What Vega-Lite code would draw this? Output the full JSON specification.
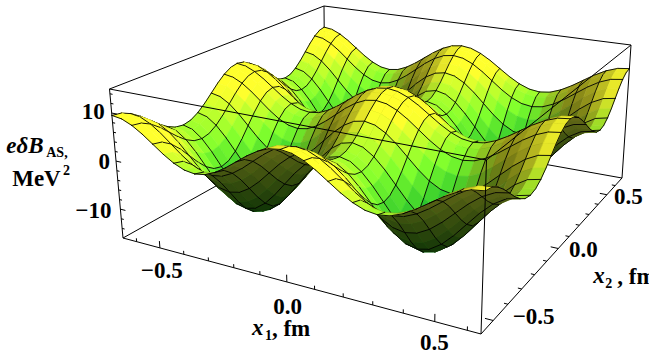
{"$schema":"https://vega.github.io/schema/vega-lite/v6.json","width":649,"height":362,"padding":0,"autosize":"none","background":"white","config":{"view":{"stroke":null}},
"data":{"values":[
{"i":0,"j":32,"z":9.5},{"i":1,"j":32,"z":9.18},{"i":2,"j":32,"z":8.25},{"i":3,"j":32,"z":6.88},{"i":4,"j":32,"z":5.25},{"i":5,"j":32,"z":3.62},{"i":6,"j":32,"z":2.25},{"i":7,"j":32,"z":1.32},{"i":8,"j":32,"z":1},{"i":9,"j":32,"z":1.32},{"i":10,"j":32,"z":2.25},{"i":11,"j":32,"z":3.62},{"i":12,"j":32,"z":5.25},{"i":13,"j":32,"z":6.88},{"i":14,"j":32,"z":8.25},{"i":15,"j":32,"z":9.18},{"i":16,"j":32,"z":9.5},{"i":17,"j":32,"z":9.18},{"i":18,"j":32,"z":8.25},{"i":19,"j":32,"z":6.88},{"i":20,"j":32,"z":5.25},{"i":21,"j":32,"z":3.62},{"i":22,"j":32,"z":2.25},{"i":23,"j":32,"z":1.32},{"i":24,"j":32,"z":1},{"i":25,"j":32,"z":1.32},{"i":26,"j":32,"z":2.25},{"i":27,"j":32,"z":3.62},{"i":28,"j":32,"z":5.25},{"i":29,"j":32,"z":6.88},{"i":30,"j":32,"z":8.25},{"i":31,"j":32,"z":9.18},{"i":32,"j":32,"z":9.5},
{"i":0,"j":31,"z":9.18},{"i":1,"j":31,"z":8.84},{"i":2,"j":31,"z":7.89},{"i":3,"j":31,"z":6.48},{"i":4,"j":31,"z":4.8},{"i":5,"j":31,"z":3.12},{"i":6,"j":31,"z":1.71},{"i":7,"j":31,"z":0.76},{"i":8,"j":31,"z":0.43},{"i":9,"j":31,"z":0.76},{"i":10,"j":31,"z":1.71},{"i":11,"j":31,"z":3.12},{"i":12,"j":31,"z":4.8},{"i":13,"j":31,"z":6.48},{"i":14,"j":31,"z":7.89},{"i":15,"j":31,"z":8.84},{"i":16,"j":31,"z":9.18},{"i":17,"j":31,"z":8.84},{"i":18,"j":31,"z":7.89},{"i":19,"j":31,"z":6.48},{"i":20,"j":31,"z":4.8},{"i":21,"j":31,"z":3.12},{"i":22,"j":31,"z":1.71},{"i":23,"j":31,"z":0.76},{"i":24,"j":31,"z":0.43},{"i":25,"j":31,"z":0.76},{"i":26,"j":31,"z":1.71},{"i":27,"j":31,"z":3.12},{"i":28,"j":31,"z":4.8},{"i":29,"j":31,"z":6.48},{"i":30,"j":31,"z":7.89},{"i":31,"j":31,"z":8.84},{"i":32,"j":31,"z":9.18},
{"i":0,"j":30,"z":8.25},{"i":1,"j":30,"z":7.89},{"i":2,"j":30,"z":6.87},{"i":3,"j":30,"z":5.34},{"i":4,"j":30,"z":3.53},{"i":5,"j":30,"z":1.72},{"i":6,"j":30,"z":0.19},{"i":7,"j":30,"z":-0.84},{"i":8,"j":30,"z":-1.2},{"i":9,"j":30,"z":-0.84},{"i":10,"j":30,"z":0.19},{"i":11,"j":30,"z":1.72},{"i":12,"j":30,"z":3.53},{"i":13,"j":30,"z":5.34},{"i":14,"j":30,"z":6.87},{"i":15,"j":30,"z":7.89},{"i":16,"j":30,"z":8.25},{"i":17,"j":30,"z":7.89},{"i":18,"j":30,"z":6.87},{"i":19,"j":30,"z":5.34},{"i":20,"j":30,"z":3.53},{"i":21,"j":30,"z":1.72},{"i":22,"j":30,"z":0.19},{"i":23,"j":30,"z":-0.84},{"i":24,"j":30,"z":-1.2},{"i":25,"j":30,"z":-0.84},{"i":26,"j":30,"z":0.19},{"i":27,"j":30,"z":1.72},{"i":28,"j":30,"z":3.53},{"i":29,"j":30,"z":5.34},{"i":30,"j":30,"z":6.87},{"i":31,"j":30,"z":7.89},{"i":32,"j":30,"z":8.25},
{"i":0,"j":29,"z":6.88},{"i":1,"j":29,"z":6.48},{"i":2,"j":29,"z":5.34},{"i":3,"j":29,"z":3.64},{"i":4,"j":29,"z":1.63},{"i":5,"j":29,"z":-0.39},{"i":6,"j":29,"z":-2.09},{"i":7,"j":29,"z":-3.23},{"i":8,"j":29,"z":-3.63},{"i":9,"j":29,"z":-3.23},{"i":10,"j":29,"z":-2.09},{"i":11,"j":29,"z":-0.39},{"i":12,"j":29,"z":1.63},{"i":13,"j":29,"z":3.64},{"i":14,"j":29,"z":5.34},{"i":15,"j":29,"z":6.48},{"i":16,"j":29,"z":6.88},{"i":17,"j":29,"z":6.48},{"i":18,"j":29,"z":5.34},{"i":19,"j":29,"z":3.64},{"i":20,"j":29,"z":1.63},{"i":21,"j":29,"z":-0.39},{"i":22,"j":29,"z":-2.09},{"i":23,"j":29,"z":-3.23},{"i":24,"j":29,"z":-3.63},{"i":25,"j":29,"z":-3.23},{"i":26,"j":29,"z":-2.09},{"i":27,"j":29,"z":-0.39},{"i":28,"j":29,"z":1.63},{"i":29,"j":29,"z":3.64},{"i":30,"j":29,"z":5.34},{"i":31,"j":29,"z":6.48},{"i":32,"j":29,"z":6.88},
{"i":0,"j":28,"z":5.25},{"i":1,"j":28,"z":4.8},{"i":2,"j":28,"z":3.53},{"i":3,"j":28,"z":1.63},{"i":4,"j":28,"z":-0.63},{"i":5,"j":28,"z":-2.88},{"i":6,"j":28,"z":-4.78},{"i":7,"j":28,"z":-6.05},{"i":8,"j":28,"z":-6.5},{"i":9,"j":28,"z":-6.05},{"i":10,"j":28,"z":-4.78},{"i":11,"j":28,"z":-2.88},{"i":12,"j":28,"z":-0.63},{"i":13,"j":28,"z":1.63},{"i":14,"j":28,"z":3.53},{"i":15,"j":28,"z":4.8},{"i":16,"j":28,"z":5.25},{"i":17,"j":28,"z":4.8},{"i":18,"j":28,"z":3.53},{"i":19,"j":28,"z":1.63},{"i":20,"j":28,"z":-0.63},{"i":21,"j":28,"z":-2.88},{"i":22,"j":28,"z":-4.78},{"i":23,"j":28,"z":-6.05},{"i":24,"j":28,"z":-6.5},{"i":25,"j":28,"z":-6.05},{"i":26,"j":28,"z":-4.78},{"i":27,"j":28,"z":-2.88},{"i":28,"j":28,"z":-0.63},{"i":29,"j":28,"z":1.63},{"i":30,"j":28,"z":3.53},{"i":31,"j":28,"z":4.8},{"i":32,"j":28,"z":5.25},
{"i":0,"j":27,"z":3.62},{"i":1,"j":27,"z":3.12},{"i":2,"j":27,"z":1.72},{"i":3,"j":27,"z":-0.39},{"i":4,"j":27,"z":-2.88},{"i":5,"j":27,"z":-5.36},{"i":6,"j":27,"z":-7.47},{"i":7,"j":27,"z":-8.88},{"i":8,"j":27,"z":-9.37},{"i":9,"j":27,"z":-8.88},{"i":10,"j":27,"z":-7.47},{"i":11,"j":27,"z":-5.36},{"i":12,"j":27,"z":-2.88},{"i":13,"j":27,"z":-0.39},{"i":14,"j":27,"z":1.72},{"i":15,"j":27,"z":3.12},{"i":16,"j":27,"z":3.62},{"i":17,"j":27,"z":3.12},{"i":18,"j":27,"z":1.72},{"i":19,"j":27,"z":-0.39},{"i":20,"j":27,"z":-2.88},{"i":21,"j":27,"z":-5.36},{"i":22,"j":27,"z":-7.47},{"i":23,"j":27,"z":-8.88},{"i":24,"j":27,"z":-9.37},{"i":25,"j":27,"z":-8.88},{"i":26,"j":27,"z":-7.47},{"i":27,"j":27,"z":-5.36},{"i":28,"j":27,"z":-2.88},{"i":29,"j":27,"z":-0.39},{"i":30,"j":27,"z":1.72},{"i":31,"j":27,"z":3.12},{"i":32,"j":27,"z":3.62},
{"i":0,"j":26,"z":2.25},{"i":1,"j":26,"z":1.71},{"i":2,"j":26,"z":0.19},{"i":3,"j":26,"z":-2.09},{"i":4,"j":26,"z":-4.78},{"i":5,"j":26,"z":-7.47},{"i":6,"j":26,"z":-9.74},{"i":7,"j":26,"z":-11.27},{"i":8,"j":26,"z":-11.8},{"i":9,"j":26,"z":-11.27},{"i":10,"j":26,"z":-9.74},{"i":11,"j":26,"z":-7.47},{"i":12,"j":26,"z":-4.78},{"i":13,"j":26,"z":-2.09},{"i":14,"j":26,"z":0.19},{"i":15,"j":26,"z":1.71},{"i":16,"j":26,"z":2.25},{"i":17,"j":26,"z":1.71},{"i":18,"j":26,"z":0.19},{"i":19,"j":26,"z":-2.09},{"i":20,"j":26,"z":-4.78},{"i":21,"j":26,"z":-7.47},{"i":22,"j":26,"z":-9.74},{"i":23,"j":26,"z":-11.27},{"i":24,"j":26,"z":-11.8},{"i":25,"j":26,"z":-11.27},{"i":26,"j":26,"z":-9.74},{"i":27,"j":26,"z":-7.47},{"i":28,"j":26,"z":-4.78},{"i":29,"j":26,"z":-2.09},{"i":30,"j":26,"z":0.19},{"i":31,"j":26,"z":1.71},{"i":32,"j":26,"z":2.25},
{"i":0,"j":25,"z":1.32},{"i":1,"j":25,"z":0.76},{"i":2,"j":25,"z":-0.84},{"i":3,"j":25,"z":-3.23},{"i":4,"j":25,"z":-6.05},{"i":5,"j":25,"z":-8.88},{"i":6,"j":25,"z":-11.27},{"i":7,"j":25,"z":-12.87},{"i":8,"j":25,"z":-13.43},{"i":9,"j":25,"z":-12.87},{"i":10,"j":25,"z":-11.27},{"i":11,"j":25,"z":-8.88},{"i":12,"j":25,"z":-6.05},{"i":13,"j":25,"z":-3.23},{"i":14,"j":25,"z":-0.84},{"i":15,"j":25,"z":0.76},{"i":16,"j":25,"z":1.32},{"i":17,"j":25,"z":0.76},{"i":18,"j":25,"z":-0.84},{"i":19,"j":25,"z":-3.23},{"i":20,"j":25,"z":-6.05},{"i":21,"j":25,"z":-8.88},{"i":22,"j":25,"z":-11.27},{"i":23,"j":25,"z":-12.87},{"i":24,"j":25,"z":-13.43},{"i":25,"j":25,"z":-12.87},{"i":26,"j":25,"z":-11.27},{"i":27,"j":25,"z":-8.88},{"i":28,"j":25,"z":-6.05},{"i":29,"j":25,"z":-3.23},{"i":30,"j":25,"z":-0.84},{"i":31,"j":25,"z":0.76},{"i":32,"j":25,"z":1.32},
{"i":0,"j":24,"z":1},{"i":1,"j":24,"z":0.43},{"i":2,"j":24,"z":-1.2},{"i":3,"j":24,"z":-3.63},{"i":4,"j":24,"z":-6.5},{"i":5,"j":24,"z":-9.37},{"i":6,"j":24,"z":-11.8},{"i":7,"j":24,"z":-13.43},{"i":8,"j":24,"z":-14},{"i":9,"j":24,"z":-13.43},{"i":10,"j":24,"z":-11.8},{"i":11,"j":24,"z":-9.37},{"i":12,"j":24,"z":-6.5},{"i":13,"j":24,"z":-3.63},{"i":14,"j":24,"z":-1.2},{"i":15,"j":24,"z":0.43},{"i":16,"j":24,"z":1},{"i":17,"j":24,"z":0.43},{"i":18,"j":24,"z":-1.2},{"i":19,"j":24,"z":-3.63},{"i":20,"j":24,"z":-6.5},{"i":21,"j":24,"z":-9.37},{"i":22,"j":24,"z":-11.8},{"i":23,"j":24,"z":-13.43},{"i":24,"j":24,"z":-14},{"i":25,"j":24,"z":-13.43},{"i":26,"j":24,"z":-11.8},{"i":27,"j":24,"z":-9.37},{"i":28,"j":24,"z":-6.5},{"i":29,"j":24,"z":-3.63},{"i":30,"j":24,"z":-1.2},{"i":31,"j":24,"z":0.43},{"i":32,"j":24,"z":1},
{"i":0,"j":23,"z":1.32},{"i":1,"j":23,"z":0.76},{"i":2,"j":23,"z":-0.84},{"i":3,"j":23,"z":-3.23},{"i":4,"j":23,"z":-6.05},{"i":5,"j":23,"z":-8.88},{"i":6,"j":23,"z":-11.27},{"i":7,"j":23,"z":-12.87},{"i":8,"j":23,"z":-13.43},{"i":9,"j":23,"z":-12.87},{"i":10,"j":23,"z":-11.27},{"i":11,"j":23,"z":-8.88},{"i":12,"j":23,"z":-6.05},{"i":13,"j":23,"z":-3.23},{"i":14,"j":23,"z":-0.84},{"i":15,"j":23,"z":0.76},{"i":16,"j":23,"z":1.32},{"i":17,"j":23,"z":0.76},{"i":18,"j":23,"z":-0.84},{"i":19,"j":23,"z":-3.23},{"i":20,"j":23,"z":-6.05},{"i":21,"j":23,"z":-8.88},{"i":22,"j":23,"z":-11.27},{"i":23,"j":23,"z":-12.87},{"i":24,"j":23,"z":-13.43},{"i":25,"j":23,"z":-12.87},{"i":26,"j":23,"z":-11.27},{"i":27,"j":23,"z":-8.88},{"i":28,"j":23,"z":-6.05},{"i":29,"j":23,"z":-3.23},{"i":30,"j":23,"z":-0.84},{"i":31,"j":23,"z":0.76},{"i":32,"j":23,"z":1.32},
{"i":0,"j":22,"z":2.25},{"i":1,"j":22,"z":1.71},{"i":2,"j":22,"z":0.19},{"i":3,"j":22,"z":-2.09},{"i":4,"j":22,"z":-4.78},{"i":5,"j":22,"z":-7.47},{"i":6,"j":22,"z":-9.74},{"i":7,"j":22,"z":-11.27},{"i":8,"j":22,"z":-11.8},{"i":9,"j":22,"z":-11.27},{"i":10,"j":22,"z":-9.74},{"i":11,"j":22,"z":-7.47},{"i":12,"j":22,"z":-4.78},{"i":13,"j":22,"z":-2.09},{"i":14,"j":22,"z":0.19},{"i":15,"j":22,"z":1.71},{"i":16,"j":22,"z":2.25},{"i":17,"j":22,"z":1.71},{"i":18,"j":22,"z":0.19},{"i":19,"j":22,"z":-2.09},{"i":20,"j":22,"z":-4.78},{"i":21,"j":22,"z":-7.47},{"i":22,"j":22,"z":-9.74},{"i":23,"j":22,"z":-11.27},{"i":24,"j":22,"z":-11.8},{"i":25,"j":22,"z":-11.27},{"i":26,"j":22,"z":-9.74},{"i":27,"j":22,"z":-7.47},{"i":28,"j":22,"z":-4.78},{"i":29,"j":22,"z":-2.09},{"i":30,"j":22,"z":0.19},{"i":31,"j":22,"z":1.71},{"i":32,"j":22,"z":2.25},
{"i":0,"j":21,"z":3.62},{"i":1,"j":21,"z":3.12},{"i":2,"j":21,"z":1.72},{"i":3,"j":21,"z":-0.39},{"i":4,"j":21,"z":-2.88},{"i":5,"j":21,"z":-5.36},{"i":6,"j":21,"z":-7.47},{"i":7,"j":21,"z":-8.88},{"i":8,"j":21,"z":-9.37},{"i":9,"j":21,"z":-8.88},{"i":10,"j":21,"z":-7.47},{"i":11,"j":21,"z":-5.36},{"i":12,"j":21,"z":-2.88},{"i":13,"j":21,"z":-0.39},{"i":14,"j":21,"z":1.72},{"i":15,"j":21,"z":3.12},{"i":16,"j":21,"z":3.62},{"i":17,"j":21,"z":3.12},{"i":18,"j":21,"z":1.72},{"i":19,"j":21,"z":-0.39},{"i":20,"j":21,"z":-2.88},{"i":21,"j":21,"z":-5.36},{"i":22,"j":21,"z":-7.47},{"i":23,"j":21,"z":-8.88},{"i":24,"j":21,"z":-9.37},{"i":25,"j":21,"z":-8.88},{"i":26,"j":21,"z":-7.47},{"i":27,"j":21,"z":-5.36},{"i":28,"j":21,"z":-2.88},{"i":29,"j":21,"z":-0.39},{"i":30,"j":21,"z":1.72},{"i":31,"j":21,"z":3.12},{"i":32,"j":21,"z":3.62},
{"i":0,"j":20,"z":5.25},{"i":1,"j":20,"z":4.8},{"i":2,"j":20,"z":3.53},{"i":3,"j":20,"z":1.63},{"i":4,"j":20,"z":-0.63},{"i":5,"j":20,"z":-2.88},{"i":6,"j":20,"z":-4.78},{"i":7,"j":20,"z":-6.05},{"i":8,"j":20,"z":-6.5},{"i":9,"j":20,"z":-6.05},{"i":10,"j":20,"z":-4.78},{"i":11,"j":20,"z":-2.88},{"i":12,"j":20,"z":-0.63},{"i":13,"j":20,"z":1.63},{"i":14,"j":20,"z":3.53},{"i":15,"j":20,"z":4.8},{"i":16,"j":20,"z":5.25},{"i":17,"j":20,"z":4.8},{"i":18,"j":20,"z":3.53},{"i":19,"j":20,"z":1.63},{"i":20,"j":20,"z":-0.63},{"i":21,"j":20,"z":-2.88},{"i":22,"j":20,"z":-4.78},{"i":23,"j":20,"z":-6.05},{"i":24,"j":20,"z":-6.5},{"i":25,"j":20,"z":-6.05},{"i":26,"j":20,"z":-4.78},{"i":27,"j":20,"z":-2.88},{"i":28,"j":20,"z":-0.63},{"i":29,"j":20,"z":1.63},{"i":30,"j":20,"z":3.53},{"i":31,"j":20,"z":4.8},{"i":32,"j":20,"z":5.25},
{"i":0,"j":19,"z":6.88},{"i":1,"j":19,"z":6.48},{"i":2,"j":19,"z":5.34},{"i":3,"j":19,"z":3.64},{"i":4,"j":19,"z":1.63},{"i":5,"j":19,"z":-0.39},{"i":6,"j":19,"z":-2.09},{"i":7,"j":19,"z":-3.23},{"i":8,"j":19,"z":-3.63},{"i":9,"j":19,"z":-3.23},{"i":10,"j":19,"z":-2.09},{"i":11,"j":19,"z":-0.39},{"i":12,"j":19,"z":1.63},{"i":13,"j":19,"z":3.64},{"i":14,"j":19,"z":5.34},{"i":15,"j":19,"z":6.48},{"i":16,"j":19,"z":6.88},{"i":17,"j":19,"z":6.48},{"i":18,"j":19,"z":5.34},{"i":19,"j":19,"z":3.64},{"i":20,"j":19,"z":1.63},{"i":21,"j":19,"z":-0.39},{"i":22,"j":19,"z":-2.09},{"i":23,"j":19,"z":-3.23},{"i":24,"j":19,"z":-3.63},{"i":25,"j":19,"z":-3.23},{"i":26,"j":19,"z":-2.09},{"i":27,"j":19,"z":-0.39},{"i":28,"j":19,"z":1.63},{"i":29,"j":19,"z":3.64},{"i":30,"j":19,"z":5.34},{"i":31,"j":19,"z":6.48},{"i":32,"j":19,"z":6.88},
{"i":0,"j":18,"z":8.25},{"i":1,"j":18,"z":7.89},{"i":2,"j":18,"z":6.87},{"i":3,"j":18,"z":5.34},{"i":4,"j":18,"z":3.53},{"i":5,"j":18,"z":1.72},{"i":6,"j":18,"z":0.19},{"i":7,"j":18,"z":-0.84},{"i":8,"j":18,"z":-1.2},{"i":9,"j":18,"z":-0.84},{"i":10,"j":18,"z":0.19},{"i":11,"j":18,"z":1.72},{"i":12,"j":18,"z":3.53},{"i":13,"j":18,"z":5.34},{"i":14,"j":18,"z":6.87},{"i":15,"j":18,"z":7.89},{"i":16,"j":18,"z":8.25},{"i":17,"j":18,"z":7.89},{"i":18,"j":18,"z":6.87},{"i":19,"j":18,"z":5.34},{"i":20,"j":18,"z":3.53},{"i":21,"j":18,"z":1.72},{"i":22,"j":18,"z":0.19},{"i":23,"j":18,"z":-0.84},{"i":24,"j":18,"z":-1.2},{"i":25,"j":18,"z":-0.84},{"i":26,"j":18,"z":0.19},{"i":27,"j":18,"z":1.72},{"i":28,"j":18,"z":3.53},{"i":29,"j":18,"z":5.34},{"i":30,"j":18,"z":6.87},{"i":31,"j":18,"z":7.89},{"i":32,"j":18,"z":8.25},
{"i":0,"j":17,"z":9.18},{"i":1,"j":17,"z":8.84},{"i":2,"j":17,"z":7.89},{"i":3,"j":17,"z":6.48},{"i":4,"j":17,"z":4.8},{"i":5,"j":17,"z":3.12},{"i":6,"j":17,"z":1.71},{"i":7,"j":17,"z":0.76},{"i":8,"j":17,"z":0.43},{"i":9,"j":17,"z":0.76},{"i":10,"j":17,"z":1.71},{"i":11,"j":17,"z":3.12},{"i":12,"j":17,"z":4.8},{"i":13,"j":17,"z":6.48},{"i":14,"j":17,"z":7.89},{"i":15,"j":17,"z":8.84},{"i":16,"j":17,"z":9.18},{"i":17,"j":17,"z":8.84},{"i":18,"j":17,"z":7.89},{"i":19,"j":17,"z":6.48},{"i":20,"j":17,"z":4.8},{"i":21,"j":17,"z":3.12},{"i":22,"j":17,"z":1.71},{"i":23,"j":17,"z":0.76},{"i":24,"j":17,"z":0.43},{"i":25,"j":17,"z":0.76},{"i":26,"j":17,"z":1.71},{"i":27,"j":17,"z":3.12},{"i":28,"j":17,"z":4.8},{"i":29,"j":17,"z":6.48},{"i":30,"j":17,"z":7.89},{"i":31,"j":17,"z":8.84},{"i":32,"j":17,"z":9.18},
{"i":0,"j":16,"z":9.5},{"i":1,"j":16,"z":9.18},{"i":2,"j":16,"z":8.25},{"i":3,"j":16,"z":6.88},{"i":4,"j":16,"z":5.25},{"i":5,"j":16,"z":3.62},{"i":6,"j":16,"z":2.25},{"i":7,"j":16,"z":1.32},{"i":8,"j":16,"z":1},{"i":9,"j":16,"z":1.32},{"i":10,"j":16,"z":2.25},{"i":11,"j":16,"z":3.62},{"i":12,"j":16,"z":5.25},{"i":13,"j":16,"z":6.88},{"i":14,"j":16,"z":8.25},{"i":15,"j":16,"z":9.18},{"i":16,"j":16,"z":9.5},{"i":17,"j":16,"z":9.18},{"i":18,"j":16,"z":8.25},{"i":19,"j":16,"z":6.88},{"i":20,"j":16,"z":5.25},{"i":21,"j":16,"z":3.62},{"i":22,"j":16,"z":2.25},{"i":23,"j":16,"z":1.32},{"i":24,"j":16,"z":1},{"i":25,"j":16,"z":1.32},{"i":26,"j":16,"z":2.25},{"i":27,"j":16,"z":3.62},{"i":28,"j":16,"z":5.25},{"i":29,"j":16,"z":6.88},{"i":30,"j":16,"z":8.25},{"i":31,"j":16,"z":9.18},{"i":32,"j":16,"z":9.5},
{"i":0,"j":15,"z":9.18},{"i":1,"j":15,"z":8.84},{"i":2,"j":15,"z":7.89},{"i":3,"j":15,"z":6.48},{"i":4,"j":15,"z":4.8},{"i":5,"j":15,"z":3.12},{"i":6,"j":15,"z":1.71},{"i":7,"j":15,"z":0.76},{"i":8,"j":15,"z":0.43},{"i":9,"j":15,"z":0.76},{"i":10,"j":15,"z":1.71},{"i":11,"j":15,"z":3.12},{"i":12,"j":15,"z":4.8},{"i":13,"j":15,"z":6.48},{"i":14,"j":15,"z":7.89},{"i":15,"j":15,"z":8.84},{"i":16,"j":15,"z":9.18},{"i":17,"j":15,"z":8.84},{"i":18,"j":15,"z":7.89},{"i":19,"j":15,"z":6.48},{"i":20,"j":15,"z":4.8},{"i":21,"j":15,"z":3.12},{"i":22,"j":15,"z":1.71},{"i":23,"j":15,"z":0.76},{"i":24,"j":15,"z":0.43},{"i":25,"j":15,"z":0.76},{"i":26,"j":15,"z":1.71},{"i":27,"j":15,"z":3.12},{"i":28,"j":15,"z":4.8},{"i":29,"j":15,"z":6.48},{"i":30,"j":15,"z":7.89},{"i":31,"j":15,"z":8.84},{"i":32,"j":15,"z":9.18},
{"i":0,"j":14,"z":8.25},{"i":1,"j":14,"z":7.89},{"i":2,"j":14,"z":6.87},{"i":3,"j":14,"z":5.34},{"i":4,"j":14,"z":3.53},{"i":5,"j":14,"z":1.72},{"i":6,"j":14,"z":0.19},{"i":7,"j":14,"z":-0.84},{"i":8,"j":14,"z":-1.2},{"i":9,"j":14,"z":-0.84},{"i":10,"j":14,"z":0.19},{"i":11,"j":14,"z":1.72},{"i":12,"j":14,"z":3.53},{"i":13,"j":14,"z":5.34},{"i":14,"j":14,"z":6.87},{"i":15,"j":14,"z":7.89},{"i":16,"j":14,"z":8.25},{"i":17,"j":14,"z":7.89},{"i":18,"j":14,"z":6.87},{"i":19,"j":14,"z":5.34},{"i":20,"j":14,"z":3.53},{"i":21,"j":14,"z":1.72},{"i":22,"j":14,"z":0.19},{"i":23,"j":14,"z":-0.84},{"i":24,"j":14,"z":-1.2},{"i":25,"j":14,"z":-0.84},{"i":26,"j":14,"z":0.19},{"i":27,"j":14,"z":1.72},{"i":28,"j":14,"z":3.53},{"i":29,"j":14,"z":5.34},{"i":30,"j":14,"z":6.87},{"i":31,"j":14,"z":7.89},{"i":32,"j":14,"z":8.25},
{"i":0,"j":13,"z":6.88},{"i":1,"j":13,"z":6.48},{"i":2,"j":13,"z":5.34},{"i":3,"j":13,"z":3.64},{"i":4,"j":13,"z":1.63},{"i":5,"j":13,"z":-0.39},{"i":6,"j":13,"z":-2.09},{"i":7,"j":13,"z":-3.23},{"i":8,"j":13,"z":-3.63},{"i":9,"j":13,"z":-3.23},{"i":10,"j":13,"z":-2.09},{"i":11,"j":13,"z":-0.39},{"i":12,"j":13,"z":1.63},{"i":13,"j":13,"z":3.64},{"i":14,"j":13,"z":5.34},{"i":15,"j":13,"z":6.48},{"i":16,"j":13,"z":6.88},{"i":17,"j":13,"z":6.48},{"i":18,"j":13,"z":5.34},{"i":19,"j":13,"z":3.64},{"i":20,"j":13,"z":1.63},{"i":21,"j":13,"z":-0.39},{"i":22,"j":13,"z":-2.09},{"i":23,"j":13,"z":-3.23},{"i":24,"j":13,"z":-3.63},{"i":25,"j":13,"z":-3.23},{"i":26,"j":13,"z":-2.09},{"i":27,"j":13,"z":-0.39},{"i":28,"j":13,"z":1.63},{"i":29,"j":13,"z":3.64},{"i":30,"j":13,"z":5.34},{"i":31,"j":13,"z":6.48},{"i":32,"j":13,"z":6.88},
{"i":0,"j":12,"z":5.25},{"i":1,"j":12,"z":4.8},{"i":2,"j":12,"z":3.53},{"i":3,"j":12,"z":1.63},{"i":4,"j":12,"z":-0.63},{"i":5,"j":12,"z":-2.88},{"i":6,"j":12,"z":-4.78},{"i":7,"j":12,"z":-6.05},{"i":8,"j":12,"z":-6.5},{"i":9,"j":12,"z":-6.05},{"i":10,"j":12,"z":-4.78},{"i":11,"j":12,"z":-2.88},{"i":12,"j":12,"z":-0.63},{"i":13,"j":12,"z":1.63},{"i":14,"j":12,"z":3.53},{"i":15,"j":12,"z":4.8},{"i":16,"j":12,"z":5.25},{"i":17,"j":12,"z":4.8},{"i":18,"j":12,"z":3.53},{"i":19,"j":12,"z":1.63},{"i":20,"j":12,"z":-0.63},{"i":21,"j":12,"z":-2.88},{"i":22,"j":12,"z":-4.78},{"i":23,"j":12,"z":-6.05},{"i":24,"j":12,"z":-6.5},{"i":25,"j":12,"z":-6.05},{"i":26,"j":12,"z":-4.78},{"i":27,"j":12,"z":-2.88},{"i":28,"j":12,"z":-0.63},{"i":29,"j":12,"z":1.63},{"i":30,"j":12,"z":3.53},{"i":31,"j":12,"z":4.8},{"i":32,"j":12,"z":5.25},
{"i":0,"j":11,"z":3.62},{"i":1,"j":11,"z":3.12},{"i":2,"j":11,"z":1.72},{"i":3,"j":11,"z":-0.39},{"i":4,"j":11,"z":-2.88},{"i":5,"j":11,"z":-5.36},{"i":6,"j":11,"z":-7.47},{"i":7,"j":11,"z":-8.88},{"i":8,"j":11,"z":-9.37},{"i":9,"j":11,"z":-8.88},{"i":10,"j":11,"z":-7.47},{"i":11,"j":11,"z":-5.36},{"i":12,"j":11,"z":-2.88},{"i":13,"j":11,"z":-0.39},{"i":14,"j":11,"z":1.72},{"i":15,"j":11,"z":3.12},{"i":16,"j":11,"z":3.62},{"i":17,"j":11,"z":3.12},{"i":18,"j":11,"z":1.72},{"i":19,"j":11,"z":-0.39},{"i":20,"j":11,"z":-2.88},{"i":21,"j":11,"z":-5.36},{"i":22,"j":11,"z":-7.47},{"i":23,"j":11,"z":-8.88},{"i":24,"j":11,"z":-9.37},{"i":25,"j":11,"z":-8.88},{"i":26,"j":11,"z":-7.47},{"i":27,"j":11,"z":-5.36},{"i":28,"j":11,"z":-2.88},{"i":29,"j":11,"z":-0.39},{"i":30,"j":11,"z":1.72},{"i":31,"j":11,"z":3.12},{"i":32,"j":11,"z":3.62},
{"i":0,"j":10,"z":2.25},{"i":1,"j":10,"z":1.71},{"i":2,"j":10,"z":0.19},{"i":3,"j":10,"z":-2.09},{"i":4,"j":10,"z":-4.78},{"i":5,"j":10,"z":-7.47},{"i":6,"j":10,"z":-9.74},{"i":7,"j":10,"z":-11.27},{"i":8,"j":10,"z":-11.8},{"i":9,"j":10,"z":-11.27},{"i":10,"j":10,"z":-9.74},{"i":11,"j":10,"z":-7.47},{"i":12,"j":10,"z":-4.78},{"i":13,"j":10,"z":-2.09},{"i":14,"j":10,"z":0.19},{"i":15,"j":10,"z":1.71},{"i":16,"j":10,"z":2.25},{"i":17,"j":10,"z":1.71},{"i":18,"j":10,"z":0.19},{"i":19,"j":10,"z":-2.09},{"i":20,"j":10,"z":-4.78},{"i":21,"j":10,"z":-7.47},{"i":22,"j":10,"z":-9.74},{"i":23,"j":10,"z":-11.27},{"i":24,"j":10,"z":-11.8},{"i":25,"j":10,"z":-11.27},{"i":26,"j":10,"z":-9.74},{"i":27,"j":10,"z":-7.47},{"i":28,"j":10,"z":-4.78},{"i":29,"j":10,"z":-2.09},{"i":30,"j":10,"z":0.19},{"i":31,"j":10,"z":1.71},{"i":32,"j":10,"z":2.25},
{"i":0,"j":9,"z":1.32},{"i":1,"j":9,"z":0.76},{"i":2,"j":9,"z":-0.84},{"i":3,"j":9,"z":-3.23},{"i":4,"j":9,"z":-6.05},{"i":5,"j":9,"z":-8.88},{"i":6,"j":9,"z":-11.27},{"i":7,"j":9,"z":-12.87},{"i":8,"j":9,"z":-13.43},{"i":9,"j":9,"z":-12.87},{"i":10,"j":9,"z":-11.27},{"i":11,"j":9,"z":-8.88},{"i":12,"j":9,"z":-6.05},{"i":13,"j":9,"z":-3.23},{"i":14,"j":9,"z":-0.84},{"i":15,"j":9,"z":0.76},{"i":16,"j":9,"z":1.32},{"i":17,"j":9,"z":0.76},{"i":18,"j":9,"z":-0.84},{"i":19,"j":9,"z":-3.23},{"i":20,"j":9,"z":-6.05},{"i":21,"j":9,"z":-8.88},{"i":22,"j":9,"z":-11.27},{"i":23,"j":9,"z":-12.87},{"i":24,"j":9,"z":-13.43},{"i":25,"j":9,"z":-12.87},{"i":26,"j":9,"z":-11.27},{"i":27,"j":9,"z":-8.88},{"i":28,"j":9,"z":-6.05},{"i":29,"j":9,"z":-3.23},{"i":30,"j":9,"z":-0.84},{"i":31,"j":9,"z":0.76},{"i":32,"j":9,"z":1.32},
{"i":0,"j":8,"z":1},{"i":1,"j":8,"z":0.43},{"i":2,"j":8,"z":-1.2},{"i":3,"j":8,"z":-3.63},{"i":4,"j":8,"z":-6.5},{"i":5,"j":8,"z":-9.37},{"i":6,"j":8,"z":-11.8},{"i":7,"j":8,"z":-13.43},{"i":8,"j":8,"z":-14},{"i":9,"j":8,"z":-13.43},{"i":10,"j":8,"z":-11.8},{"i":11,"j":8,"z":-9.37},{"i":12,"j":8,"z":-6.5},{"i":13,"j":8,"z":-3.63},{"i":14,"j":8,"z":-1.2},{"i":15,"j":8,"z":0.43},{"i":16,"j":8,"z":1},{"i":17,"j":8,"z":0.43},{"i":18,"j":8,"z":-1.2},{"i":19,"j":8,"z":-3.63},{"i":20,"j":8,"z":-6.5},{"i":21,"j":8,"z":-9.37},{"i":22,"j":8,"z":-11.8},{"i":23,"j":8,"z":-13.43},{"i":24,"j":8,"z":-14},{"i":25,"j":8,"z":-13.43},{"i":26,"j":8,"z":-11.8},{"i":27,"j":8,"z":-9.37},{"i":28,"j":8,"z":-6.5},{"i":29,"j":8,"z":-3.63},{"i":30,"j":8,"z":-1.2},{"i":31,"j":8,"z":0.43},{"i":32,"j":8,"z":1},
{"i":0,"j":7,"z":1.32},{"i":1,"j":7,"z":0.76},{"i":2,"j":7,"z":-0.84},{"i":3,"j":7,"z":-3.23},{"i":4,"j":7,"z":-6.05},{"i":5,"j":7,"z":-8.88},{"i":6,"j":7,"z":-11.27},{"i":7,"j":7,"z":-12.87},{"i":8,"j":7,"z":-13.43},{"i":9,"j":7,"z":-12.87},{"i":10,"j":7,"z":-11.27},{"i":11,"j":7,"z":-8.88},{"i":12,"j":7,"z":-6.05},{"i":13,"j":7,"z":-3.23},{"i":14,"j":7,"z":-0.84},{"i":15,"j":7,"z":0.76},{"i":16,"j":7,"z":1.32},{"i":17,"j":7,"z":0.76},{"i":18,"j":7,"z":-0.84},{"i":19,"j":7,"z":-3.23},{"i":20,"j":7,"z":-6.05},{"i":21,"j":7,"z":-8.88},{"i":22,"j":7,"z":-11.27},{"i":23,"j":7,"z":-12.87},{"i":24,"j":7,"z":-13.43},{"i":25,"j":7,"z":-12.87},{"i":26,"j":7,"z":-11.27},{"i":27,"j":7,"z":-8.88},{"i":28,"j":7,"z":-6.05},{"i":29,"j":7,"z":-3.23},{"i":30,"j":7,"z":-0.84},{"i":31,"j":7,"z":0.76},{"i":32,"j":7,"z":1.32},
{"i":0,"j":6,"z":2.25},{"i":1,"j":6,"z":1.71},{"i":2,"j":6,"z":0.19},{"i":3,"j":6,"z":-2.09},{"i":4,"j":6,"z":-4.78},{"i":5,"j":6,"z":-7.47},{"i":6,"j":6,"z":-9.74},{"i":7,"j":6,"z":-11.27},{"i":8,"j":6,"z":-11.8},{"i":9,"j":6,"z":-11.27},{"i":10,"j":6,"z":-9.74},{"i":11,"j":6,"z":-7.47},{"i":12,"j":6,"z":-4.78},{"i":13,"j":6,"z":-2.09},{"i":14,"j":6,"z":0.19},{"i":15,"j":6,"z":1.71},{"i":16,"j":6,"z":2.25},{"i":17,"j":6,"z":1.71},{"i":18,"j":6,"z":0.19},{"i":19,"j":6,"z":-2.09},{"i":20,"j":6,"z":-4.78},{"i":21,"j":6,"z":-7.47},{"i":22,"j":6,"z":-9.74},{"i":23,"j":6,"z":-11.27},{"i":24,"j":6,"z":-11.8},{"i":25,"j":6,"z":-11.27},{"i":26,"j":6,"z":-9.74},{"i":27,"j":6,"z":-7.47},{"i":28,"j":6,"z":-4.78},{"i":29,"j":6,"z":-2.09},{"i":30,"j":6,"z":0.19},{"i":31,"j":6,"z":1.71},{"i":32,"j":6,"z":2.25},
{"i":0,"j":5,"z":3.62},{"i":1,"j":5,"z":3.12},{"i":2,"j":5,"z":1.72},{"i":3,"j":5,"z":-0.39},{"i":4,"j":5,"z":-2.88},{"i":5,"j":5,"z":-5.36},{"i":6,"j":5,"z":-7.47},{"i":7,"j":5,"z":-8.88},{"i":8,"j":5,"z":-9.37},{"i":9,"j":5,"z":-8.88},{"i":10,"j":5,"z":-7.47},{"i":11,"j":5,"z":-5.36},{"i":12,"j":5,"z":-2.88},{"i":13,"j":5,"z":-0.39},{"i":14,"j":5,"z":1.72},{"i":15,"j":5,"z":3.12},{"i":16,"j":5,"z":3.62},{"i":17,"j":5,"z":3.12},{"i":18,"j":5,"z":1.72},{"i":19,"j":5,"z":-0.39},{"i":20,"j":5,"z":-2.88},{"i":21,"j":5,"z":-5.36},{"i":22,"j":5,"z":-7.47},{"i":23,"j":5,"z":-8.88},{"i":24,"j":5,"z":-9.37},{"i":25,"j":5,"z":-8.88},{"i":26,"j":5,"z":-7.47},{"i":27,"j":5,"z":-5.36},{"i":28,"j":5,"z":-2.88},{"i":29,"j":5,"z":-0.39},{"i":30,"j":5,"z":1.72},{"i":31,"j":5,"z":3.12},{"i":32,"j":5,"z":3.62},
{"i":0,"j":4,"z":5.25},{"i":1,"j":4,"z":4.8},{"i":2,"j":4,"z":3.53},{"i":3,"j":4,"z":1.63},{"i":4,"j":4,"z":-0.63},{"i":5,"j":4,"z":-2.88},{"i":6,"j":4,"z":-4.78},{"i":7,"j":4,"z":-6.05},{"i":8,"j":4,"z":-6.5},{"i":9,"j":4,"z":-6.05},{"i":10,"j":4,"z":-4.78},{"i":11,"j":4,"z":-2.88},{"i":12,"j":4,"z":-0.63},{"i":13,"j":4,"z":1.63},{"i":14,"j":4,"z":3.53},{"i":15,"j":4,"z":4.8},{"i":16,"j":4,"z":5.25},{"i":17,"j":4,"z":4.8},{"i":18,"j":4,"z":3.53},{"i":19,"j":4,"z":1.63},{"i":20,"j":4,"z":-0.63},{"i":21,"j":4,"z":-2.88},{"i":22,"j":4,"z":-4.78},{"i":23,"j":4,"z":-6.05},{"i":24,"j":4,"z":-6.5},{"i":25,"j":4,"z":-6.05},{"i":26,"j":4,"z":-4.78},{"i":27,"j":4,"z":-2.88},{"i":28,"j":4,"z":-0.63},{"i":29,"j":4,"z":1.63},{"i":30,"j":4,"z":3.53},{"i":31,"j":4,"z":4.8},{"i":32,"j":4,"z":5.25},
{"i":0,"j":3,"z":6.88},{"i":1,"j":3,"z":6.48},{"i":2,"j":3,"z":5.34},{"i":3,"j":3,"z":3.64},{"i":4,"j":3,"z":1.63},{"i":5,"j":3,"z":-0.39},{"i":6,"j":3,"z":-2.09},{"i":7,"j":3,"z":-3.23},{"i":8,"j":3,"z":-3.63},{"i":9,"j":3,"z":-3.23},{"i":10,"j":3,"z":-2.09},{"i":11,"j":3,"z":-0.39},{"i":12,"j":3,"z":1.63},{"i":13,"j":3,"z":3.64},{"i":14,"j":3,"z":5.34},{"i":15,"j":3,"z":6.48},{"i":16,"j":3,"z":6.88},{"i":17,"j":3,"z":6.48},{"i":18,"j":3,"z":5.34},{"i":19,"j":3,"z":3.64},{"i":20,"j":3,"z":1.63},{"i":21,"j":3,"z":-0.39},{"i":22,"j":3,"z":-2.09},{"i":23,"j":3,"z":-3.23},{"i":24,"j":3,"z":-3.63},{"i":25,"j":3,"z":-3.23},{"i":26,"j":3,"z":-2.09},{"i":27,"j":3,"z":-0.39},{"i":28,"j":3,"z":1.63},{"i":29,"j":3,"z":3.64},{"i":30,"j":3,"z":5.34},{"i":31,"j":3,"z":6.48},{"i":32,"j":3,"z":6.88},
{"i":0,"j":2,"z":8.25},{"i":1,"j":2,"z":7.89},{"i":2,"j":2,"z":6.87},{"i":3,"j":2,"z":5.34},{"i":4,"j":2,"z":3.53},{"i":5,"j":2,"z":1.72},{"i":6,"j":2,"z":0.19},{"i":7,"j":2,"z":-0.84},{"i":8,"j":2,"z":-1.2},{"i":9,"j":2,"z":-0.84},{"i":10,"j":2,"z":0.19},{"i":11,"j":2,"z":1.72},{"i":12,"j":2,"z":3.53},{"i":13,"j":2,"z":5.34},{"i":14,"j":2,"z":6.87},{"i":15,"j":2,"z":7.89},{"i":16,"j":2,"z":8.25},{"i":17,"j":2,"z":7.89},{"i":18,"j":2,"z":6.87},{"i":19,"j":2,"z":5.34},{"i":20,"j":2,"z":3.53},{"i":21,"j":2,"z":1.72},{"i":22,"j":2,"z":0.19},{"i":23,"j":2,"z":-0.84},{"i":24,"j":2,"z":-1.2},{"i":25,"j":2,"z":-0.84},{"i":26,"j":2,"z":0.19},{"i":27,"j":2,"z":1.72},{"i":28,"j":2,"z":3.53},{"i":29,"j":2,"z":5.34},{"i":30,"j":2,"z":6.87},{"i":31,"j":2,"z":7.89},{"i":32,"j":2,"z":8.25},
{"i":0,"j":1,"z":9.18},{"i":1,"j":1,"z":8.84},{"i":2,"j":1,"z":7.89},{"i":3,"j":1,"z":6.48},{"i":4,"j":1,"z":4.8},{"i":5,"j":1,"z":3.12},{"i":6,"j":1,"z":1.71},{"i":7,"j":1,"z":0.76},{"i":8,"j":1,"z":0.43},{"i":9,"j":1,"z":0.76},{"i":10,"j":1,"z":1.71},{"i":11,"j":1,"z":3.12},{"i":12,"j":1,"z":4.8},{"i":13,"j":1,"z":6.48},{"i":14,"j":1,"z":7.89},{"i":15,"j":1,"z":8.84},{"i":16,"j":1,"z":9.18},{"i":17,"j":1,"z":8.84},{"i":18,"j":1,"z":7.89},{"i":19,"j":1,"z":6.48},{"i":20,"j":1,"z":4.8},{"i":21,"j":1,"z":3.12},{"i":22,"j":1,"z":1.71},{"i":23,"j":1,"z":0.76},{"i":24,"j":1,"z":0.43},{"i":25,"j":1,"z":0.76},{"i":26,"j":1,"z":1.71},{"i":27,"j":1,"z":3.12},{"i":28,"j":1,"z":4.8},{"i":29,"j":1,"z":6.48},{"i":30,"j":1,"z":7.89},{"i":31,"j":1,"z":8.84},{"i":32,"j":1,"z":9.18},
{"i":0,"j":0,"z":9.5},{"i":1,"j":0,"z":9.18},{"i":2,"j":0,"z":8.25},{"i":3,"j":0,"z":6.88},{"i":4,"j":0,"z":5.25},{"i":5,"j":0,"z":3.62},{"i":6,"j":0,"z":2.25},{"i":7,"j":0,"z":1.32},{"i":8,"j":0,"z":1},{"i":9,"j":0,"z":1.32},{"i":10,"j":0,"z":2.25},{"i":11,"j":0,"z":3.62},{"i":12,"j":0,"z":5.25},{"i":13,"j":0,"z":6.88},{"i":14,"j":0,"z":8.25},{"i":15,"j":0,"z":9.18},{"i":16,"j":0,"z":9.5},{"i":17,"j":0,"z":9.18},{"i":18,"j":0,"z":8.25},{"i":19,"j":0,"z":6.88},{"i":20,"j":0,"z":5.25},{"i":21,"j":0,"z":3.62},{"i":22,"j":0,"z":2.25},{"i":23,"j":0,"z":1.32},{"i":24,"j":0,"z":1},{"i":25,"j":0,"z":1.32},{"i":26,"j":0,"z":2.25},{"i":27,"j":0,"z":3.62},{"i":28,"j":0,"z":5.25},{"i":29,"j":0,"z":6.88},{"i":30,"j":0,"z":8.25},{"i":31,"j":0,"z":9.18},{"i":32,"j":0,"z":9.5},
{"id":"b1","x1":-0.66,"x2":0.686,"z":-16},{"id":"b1","x1":-0.66,"x2":0.686,"z":15},
{"id":"b2","x1":-0.66,"x2":-0.578,"z":-16},{"id":"b2","x1":-0.66,"x2":0.686,"z":-16},
{"id":"b3","x1":-0.66,"x2":0.686,"z":-16},{"id":"b3","x1":0.641,"x2":0.686,"z":-16},
{"id":"f0","x1":-0.66,"x2":-0.578,"z":15},{"id":"f0","x1":-0.66,"x2":0.686,"z":15},
{"id":"f8","x1":-0.66,"x2":0.686,"z":15},{"id":"f8","x1":0.641,"x2":0.686,"z":15},
{"id":"f1","x1":-0.66,"x2":-0.578,"z":15},{"id":"f1","x1":0.641,"x2":-0.578,"z":15},
{"id":"f2","x1":0.641,"x2":-0.578,"z":15},{"id":"f2","x1":0.641,"x2":0.686,"z":15},
{"id":"f3","x1":0.641,"x2":-0.578,"z":-16},{"id":"f3","x1":0.641,"x2":-0.578,"z":15},
{"id":"f4","x1":-0.66,"x2":-0.578,"z":-16},{"id":"f4","x1":0.641,"x2":-0.578,"z":-16},
{"id":"f5","x1":0.641,"x2":-0.578,"z":-16},{"id":"f5","x1":0.641,"x2":0.686,"z":-16},
{"id":"f6","x1":-0.66,"x2":-0.578,"z":-16},{"id":"f6","x1":-0.66,"x2":-0.578,"z":15},
{"id":"f7","x1":0.641,"x2":0.686,"z":-16},{"id":"f7","x1":0.641,"x2":0.686,"z":15},
{"id":"a1","x1":-0.6,"x2":-0.578,"z":-16},{"id":"a1","x1":-0.6,"x2":-0.578,"z":-15.3},
{"id":"a2","x1":-0.5,"x2":-0.578,"z":-16},{"id":"a2","x1":-0.5,"x2":-0.578,"z":-14.6},
{"id":"a3","x1":-0.4,"x2":-0.578,"z":-16},{"id":"a3","x1":-0.4,"x2":-0.578,"z":-15.3},
{"id":"a4","x1":-0.3,"x2":-0.578,"z":-16},{"id":"a4","x1":-0.3,"x2":-0.578,"z":-15.3},
{"id":"a5","x1":-0.2,"x2":-0.578,"z":-16},{"id":"a5","x1":-0.2,"x2":-0.578,"z":-15.3},
{"id":"a6","x1":-0.1,"x2":-0.578,"z":-16},{"id":"a6","x1":-0.1,"x2":-0.578,"z":-15.3},
{"id":"a7","x1":0,"x2":-0.578,"z":-16},{"id":"a7","x1":0,"x2":-0.578,"z":-14.6},
{"id":"a8","x1":0.1,"x2":-0.578,"z":-16},{"id":"a8","x1":0.1,"x2":-0.578,"z":-15.3},
{"id":"a9","x1":0.2,"x2":-0.578,"z":-16},{"id":"a9","x1":0.2,"x2":-0.578,"z":-15.3},
{"id":"a10","x1":0.3,"x2":-0.578,"z":-16},{"id":"a10","x1":0.3,"x2":-0.578,"z":-15.3},
{"id":"a11","x1":0.4,"x2":-0.578,"z":-16},{"id":"a11","x1":0.4,"x2":-0.578,"z":-15.3},
{"id":"a12","x1":0.5,"x2":-0.578,"z":-16},{"id":"a12","x1":0.5,"x2":-0.578,"z":-14.6},
{"id":"a13","x1":0.6,"x2":-0.578,"z":-16},{"id":"a13","x1":0.6,"x2":-0.578,"z":-15.3},
{"id":"c1","x1":0.641,"x2":-0.5,"z":-16},{"id":"c1","x1":0.616,"x2":-0.5,"z":-16},
{"id":"c2","x1":0.641,"x2":-0.4,"z":-16},{"id":"c2","x1":0.629,"x2":-0.4,"z":-16},
{"id":"c3","x1":0.641,"x2":-0.3,"z":-16},{"id":"c3","x1":0.629,"x2":-0.3,"z":-16},
{"id":"c4","x1":0.641,"x2":-0.2,"z":-16},{"id":"c4","x1":0.629,"x2":-0.2,"z":-16},
{"id":"c5","x1":0.641,"x2":-0.1,"z":-16},{"id":"c5","x1":0.629,"x2":-0.1,"z":-16},
{"id":"c6","x1":0.641,"x2":0,"z":-16},{"id":"c6","x1":0.616,"x2":0,"z":-16},
{"id":"c7","x1":0.641,"x2":0.1,"z":-16},{"id":"c7","x1":0.629,"x2":0.1,"z":-16},
{"id":"c8","x1":0.641,"x2":0.2,"z":-16},{"id":"c8","x1":0.629,"x2":0.2,"z":-16},
{"id":"c9","x1":0.641,"x2":0.3,"z":-16},{"id":"c9","x1":0.629,"x2":0.3,"z":-16},
{"id":"c10","x1":0.641,"x2":0.4,"z":-16},{"id":"c10","x1":0.629,"x2":0.4,"z":-16},
{"id":"c11","x1":0.641,"x2":0.5,"z":-16},{"id":"c11","x1":0.616,"x2":0.5,"z":-16},
{"id":"c12","x1":0.641,"x2":0.6,"z":-16},{"id":"c12","x1":0.629,"x2":0.6,"z":-16},
{"id":"d1","x1":-0.66,"x2":-0.578,"z":-14},{"id":"d1","x1":-0.649,"x2":-0.578,"z":-14},
{"id":"d2","x1":-0.66,"x2":-0.578,"z":-12},{"id":"d2","x1":-0.649,"x2":-0.578,"z":-12},
{"id":"d3","x1":-0.66,"x2":-0.578,"z":-10},{"id":"d3","x1":-0.638,"x2":-0.578,"z":-10},
{"id":"d4","x1":-0.66,"x2":-0.578,"z":-8},{"id":"d4","x1":-0.649,"x2":-0.578,"z":-8},
{"id":"d5","x1":-0.66,"x2":-0.578,"z":-6},{"id":"d5","x1":-0.649,"x2":-0.578,"z":-6},
{"id":"d6","x1":-0.66,"x2":-0.578,"z":-4},{"id":"d6","x1":-0.649,"x2":-0.578,"z":-4},
{"id":"d7","x1":-0.66,"x2":-0.578,"z":-2},{"id":"d7","x1":-0.649,"x2":-0.578,"z":-2},
{"id":"d8","x1":-0.66,"x2":-0.578,"z":0},{"id":"d8","x1":-0.638,"x2":-0.578,"z":0},
{"id":"d9","x1":-0.66,"x2":-0.578,"z":2},{"id":"d9","x1":-0.649,"x2":-0.578,"z":2},
{"id":"d10","x1":-0.66,"x2":-0.578,"z":4},{"id":"d10","x1":-0.649,"x2":-0.578,"z":4},
{"id":"d11","x1":-0.66,"x2":-0.578,"z":6},{"id":"d11","x1":-0.649,"x2":-0.578,"z":6},
{"id":"d12","x1":-0.66,"x2":-0.578,"z":8},{"id":"d12","x1":-0.649,"x2":-0.578,"z":8},
{"id":"d13","x1":-0.66,"x2":-0.578,"z":10},{"id":"d13","x1":-0.638,"x2":-0.578,"z":10},
{"id":"d14","x1":-0.66,"x2":-0.578,"z":12},{"id":"d14","x1":-0.649,"x2":-0.578,"z":12},
{"id":"d15","x1":-0.66,"x2":-0.578,"z":14},{"id":"d15","x1":-0.649,"x2":-0.578,"z":14},
{"t":"−0.5","s":"c","x1":-0.5,"x2":-0.578,"z":-20.8},
{"t":"0.0","s":"c","x1":0,"x2":-0.578,"z":-20.85},
{"t":"0.5","s":"c","x1":0.5,"x2":-0.578,"z":-19.8},
{"t":"0.5","s":"c","x1":0.715,"x2":0.5,"z":-15.6},
{"t":"0.0","s":"c","x1":0.722,"x2":0,"z":-15.2},
{"t":"−0.5","s":"c","x1":0.759,"x2":-0.5,"z":-13.5},
{"t":"10","s":"c","x1":-0.74,"x2":-0.578,"z":9.42},
{"t":"0","s":"c","x1":-0.713,"x2":-0.578,"z":-0.78},
{"t":"−10","s":"c","x1":-0.785,"x2":-0.578,"z":-11.97},
{"t":"x","s":"i","x1":-0.14,"x2":-0.578,"z":-28.4},
{"t":"1","s":"u","x1":-0.09,"x2":-0.578,"z":-28.6},
{"t":", fm","s":"l","x1":-0.063,"x2":-0.578,"z":-27.4},
{"t":"x","s":"i","x1":0.759,"x2":0,"z":-21.4},
{"t":"2","s":"u","x1":0.797,"x2":0,"z":-21.7},
{"t":", fm","s":"l","x1":0.833,"x2":0,"z":-20.3},
{"t":"eδB","s":"i","x1":-1.179,"x2":-0.578,"z":-3.8},
{"t":"AS,","s":"u","x1":-0.981,"x2":-0.578,"z":-2.58},
{"t":"MeV","s":"l","x1":-1.171,"x2":-0.578,"z":-10.9},
{"t":"2","s":"u","x1":-0.91,"x2":-0.578,"z":-5.74}
]},
"transform":[
{"calculate":"isValid(datum.i)?-0.66+datum.i*1.301/32:datum.x1","as":"xa"},
{"calculate":"isValid(datum.j)?-0.578+datum.j*1.264/32:datum.x2","as":"xb"},
{"calculate":"(datum.xa+0.66)/1.301","as":"sa"},
{"calculate":"(datum.xb+0.578)/1.264","as":"ta"},
{"calculate":"datum.sa/(datum.sa+(1-datum.sa)*1.22)","as":"g"},
{"calculate":"datum.ta/(datum.ta+(1-datum.ta)*0.695)","as":"h"},
{"calculate":"(datum.z+16)/31","as":"q"},
{"calculate":"(1-datum.h)*((1-datum.g)*123+datum.g*481)+datum.h*((1-datum.g)*325+datum.g*622)","as":"bx"},
{"calculate":"(1-datum.h)*((1-datum.g)*238+datum.g*334)+datum.h*((1-datum.g)*125+datum.g*178)","as":"by"},
{"calculate":"(1-datum.h)*((1-datum.g)*109.5+datum.g*486.5)+datum.h*((1-datum.g)*324+datum.g*631)","as":"tx"},
{"calculate":"(1-datum.h)*((1-datum.g)*89+datum.g*160)+datum.h*((1-datum.g)*6+datum.g*45)","as":"ty"},
{"calculate":"datum.bx+datum.q*(datum.tx-datum.bx)","as":"px"},
{"calculate":"datum.by+datum.q*(datum.ty-datum.by)","as":"py"}
],
"encoding":{
"x":{"field":"px","type":"quantitative","scale":{"domain":[0,649],"nice":false,"zero":false},"axis":null},
"y":{"field":"py","type":"quantitative","scale":{"domain":[362,0],"nice":false,"zero":false},"axis":null}
},
"layer":[
{"transform":[{"filter":"datum.id&&indexof(datum.id,'b')==0"}],"mark":{"type":"line","stroke":"#000","strokeWidth":1},"encoding":{"detail":{"field":"id"}}},
{"transform":[
{"filter":"isValid(datum.i)"},
{"calculate":"[0,0,0,0,0,1,1,2,2]","as":"kd"},
{"calculate":"[datum.i,datum.i,datum.i-1,datum.i-1,datum.i,datum.i,datum.i,datum.i,datum.i-1]","as":"ai"},
{"calculate":"[datum.j,datum.j,datum.j,datum.j-1,datum.j-1,datum.j,datum.j+1,datum.j,datum.j]","as":"aj"},
{"calculate":"[0,4,1,2,3,0,1,0,1]","as":"o"},
{"flatten":["kd","ai","aj","o"]},
{"filter":"datum.kd==0?(datum.ai>=0&&datum.ai<=31&&datum.aj>=0&&datum.aj<=31):(datum.kd==1?(datum.ai%2==0&&datum.aj>=1&&datum.aj<=32):(datum.aj%2==0&&datum.ai>=0&&datum.ai<=31))"},
{"calculate":"datum.kd==0?((31-datum.aj)*33+datum.ai)*4:((32-datum.aj)*33+datum.ai)*4+datum.kd","as":"p"},
{"calculate":"(datum.kd!=0||datum.o==4)?0:((datum.o==1||datum.o==2)?1:-1)","as":"ws"},
{"calculate":"(datum.kd!=0||datum.o==4)?0:((datum.o==2||datum.o==3)?1:-1)","as":"wt"},
{"calculate":"datum.z*datum.ws","as":"zs"},
{"calculate":"datum.z*datum.wt","as":"zt"},
{"calculate":"datum.px*datum.ws","as":"xs"},
{"calculate":"datum.px*datum.wt","as":"xt"},
{"calculate":"datum.py*datum.ws","as":"ys"},
{"calculate":"datum.py*datum.wt","as":"yt"},
{"calculate":"(datum.kd!=0||datum.o==4)?0:datum.z/4","as":"zq"},
{"joinaggregate":[{"op":"sum","field":"zs","as":"dzs"},{"op":"sum","field":"zt","as":"dzt"},{"op":"sum","field":"xs","as":"dxs"},{"op":"sum","field":"xt","as":"dxt"},{"op":"sum","field":"ys","as":"dys"},{"op":"sum","field":"yt","as":"dyt"},{"op":"sum","field":"zq","as":"zm"}],"groupby":["p"]},
{"calculate":"clamp((datum.zm+14)/23.5,0,1)","as":"hh"},
{"calculate":"clamp(datum.dzs/4.6,-1,1)","as":"us"},
{"calculate":"clamp(datum.dzt/4.6,-1,1)","as":"ut"},
{"calculate":"clamp(1-0.55*max(datum.us,0),0.4,1)","as":"L"},
{"calculate":"clamp(pow(datum.hh,1.6)*1.25+0.35*max(datum.us,0)+0.12*max(-datum.us,0)+0.18*max(-datum.ut,0),0,1)","as":"yy"},
{"calculate":"datum.kd!=0?'transparent':((datum.dxs*datum.dyt-datum.dxt*datum.dys)>0?rgb(8+100*datum.hh,48+62*datum.hh,5+20*datum.hh)+'':rgb(255*datum.L*datum.yy,255*datum.L*(0.66+0.34*min(datum.yy*2,1)),45*datum.L)+'')","as":"col"},
{"calculate":"datum.kd!=0?'#000000':datum.col","as":"ln"},
{"calculate":"datum.kd!=0?0.9:0.6","as":"sw"}
],
"mark":{"type":"line","strokeCap":"round","strokeJoin":"round"},
"encoding":{"detail":{"field":"p","type":"quantitative"},"order":{"field":"o","type":"quantitative"},"fill":{"field":"col","type":"nominal","scale":null},"stroke":{"field":"ln","type":"nominal","scale":null},"strokeWidth":{"field":"sw","type":"quantitative","scale":null}}},
{"transform":[{"filter":"datum.id&&indexof(datum.id,'b')!=0"}],"mark":{"type":"line","stroke":"#000","strokeWidth":1},"encoding":{"detail":{"field":"id"}}},
{"transform":[{"filter":"datum.s=='c'"}],"mark":{"type":"text","font":"Liberation Serif","fontWeight":"bold","fontSize":23,"align":"center","baseline":"middle","color":"#000"},"encoding":{"text":{"field":"t"}}},
{"transform":[{"filter":"datum.s=='l'"}],"mark":{"type":"text","font":"Liberation Serif","fontWeight":"bold","fontSize":23,"align":"left","baseline":"alphabetic","color":"#000"},"encoding":{"text":{"field":"t"}}},
{"transform":[{"filter":"datum.s=='i'"}],"mark":{"type":"text","font":"Liberation Serif","fontWeight":"bold","fontStyle":"italic","fontSize":23,"align":"left","baseline":"alphabetic","color":"#000"},"encoding":{"text":{"field":"t"}}},
{"transform":[{"filter":"datum.s=='u'"}],"mark":{"type":"text","font":"Liberation Serif","fontWeight":"bold","fontSize":14,"align":"left","baseline":"alphabetic","color":"#000"},"encoding":{"text":{"field":"t"}}}
]}
